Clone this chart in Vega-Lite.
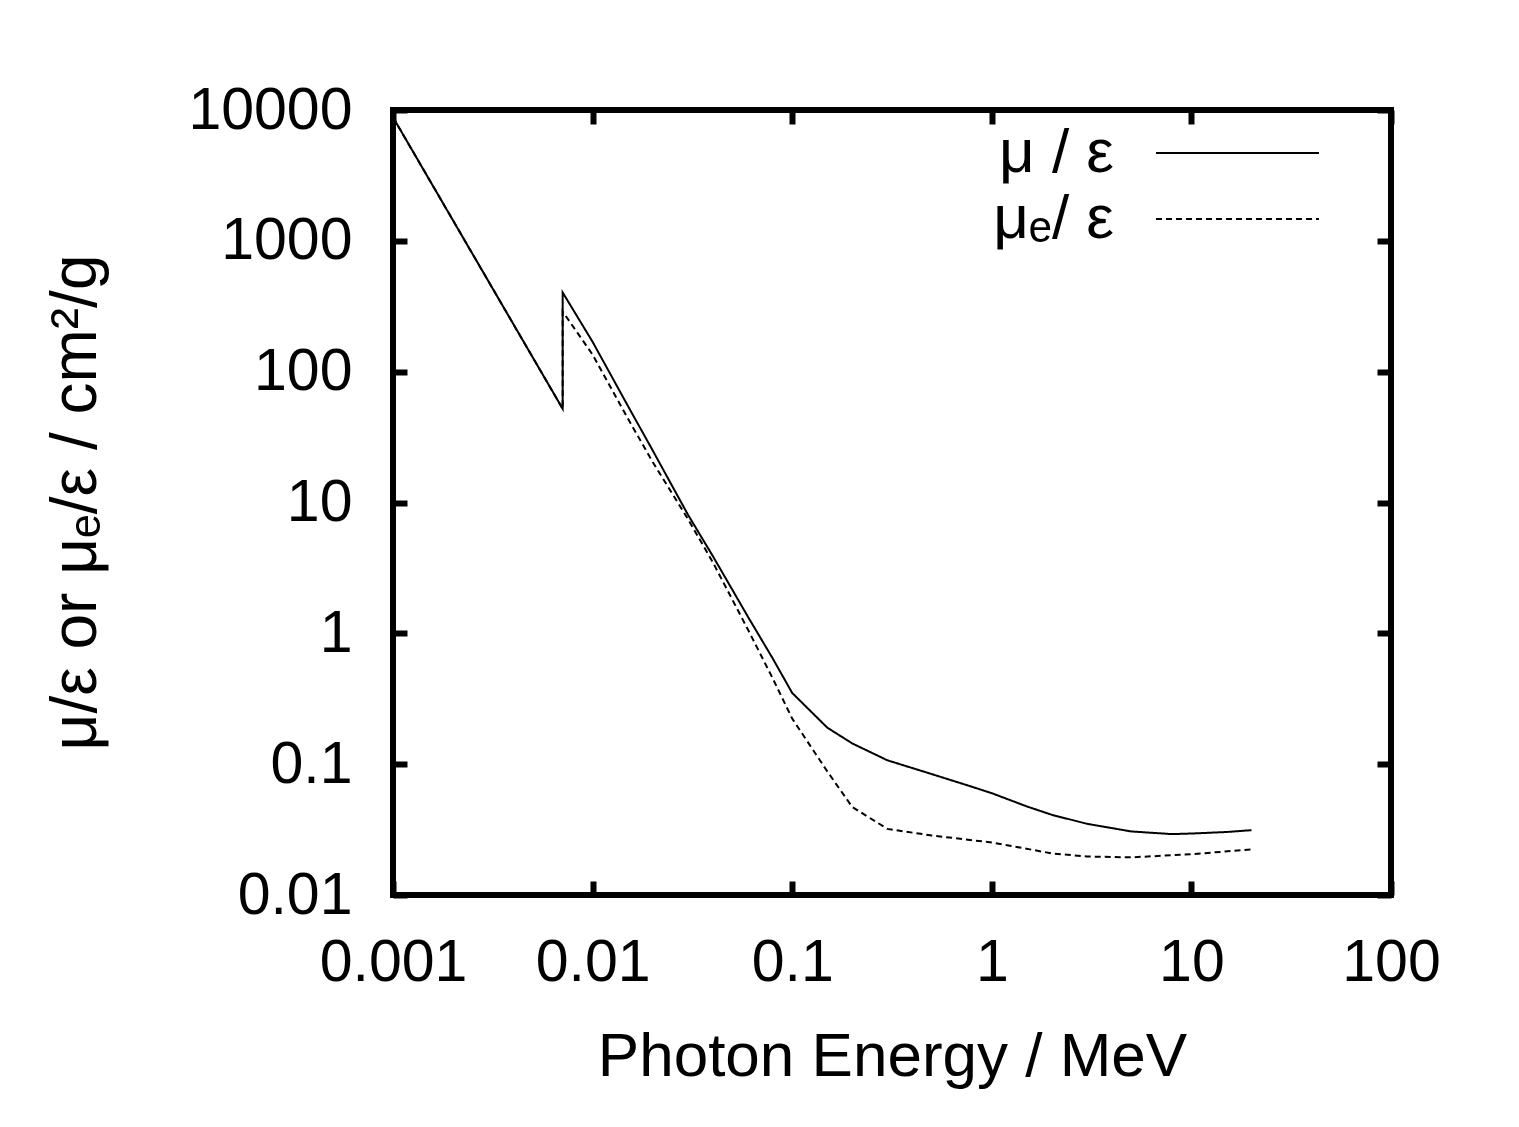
{
  "$schema": "https://vega.github.io/schema/vega-lite/v6.json",
  "width": 998,
  "height": 785,
  "autosize": {"type": "none"},
  "padding": {"left": 393, "top": 110, "right": 128, "bottom": 232},
  "background": "white",
  "config": {
    "font": "Liberation Sans",
    "view": {"stroke": "black", "strokeWidth": 6},
    "axis": {
      "grid": false,
      "domain": false,
      "tickSize": -14,
      "tickWidth": 6,
      "tickColor": "black",
      "labelFontSize": 59,
      "labelColor": "black",
      "labelFont": "Liberation Sans",
      "titleFont": "Liberation Sans",
      "titleFontSize": 62,
      "titleFontWeight": "normal",
      "titleColor": "black"
    },
    "legend": {
      "orient": "none",
      "legendX": 762,
      "legendY": 14,
      "padding": 0,
      "symbolType": "stroke",
      "symbolSize": 26569,
      "symbolStrokeWidth": 2,
      "symbolStrokeColor": "black",
      "symbolOpacity": 1,
      "labelFontSize": 62,
      "labelFont": "Liberation Sans",
      "labelColor": "black",
      "labelAlign": "right",
      "labelOffset": -206,
      "clipHeight": 58,
      "rowPadding": 4,
      "title": null
    }
  },
  "data": {
    "values": [
      {"E": 0.001, "v": 8800, "series": "μ / ε", "i": 1},
      {"E": 0.00708, "v": 52, "series": "μ / ε", "i": 2},
      {"E": 0.00708, "v": 403, "series": "μ / ε", "i": 3},
      {"E": 0.01, "v": 169, "series": "μ / ε", "i": 4},
      {"E": 0.015, "v": 55, "series": "μ / ε", "i": 5},
      {"E": 0.02, "v": 25, "series": "μ / ε", "i": 6},
      {"E": 0.03, "v": 8.1, "series": "μ / ε", "i": 7},
      {"E": 0.04, "v": 3.9, "series": "μ / ε", "i": 8},
      {"E": 0.06, "v": 1.34, "series": "μ / ε", "i": 9},
      {"E": 0.08, "v": 0.64, "series": "μ / ε", "i": 10},
      {"E": 0.1, "v": 0.35, "series": "μ / ε", "i": 11},
      {"E": 0.15, "v": 0.19, "series": "μ / ε", "i": 12},
      {"E": 0.2, "v": 0.144, "series": "μ / ε", "i": 13},
      {"E": 0.3, "v": 0.107, "series": "μ / ε", "i": 14},
      {"E": 0.5, "v": 0.084, "series": "μ / ε", "i": 15},
      {"E": 0.8, "v": 0.067, "series": "μ / ε", "i": 16},
      {"E": 1, "v": 0.06, "series": "μ / ε", "i": 17},
      {"E": 1.5, "v": 0.0475, "series": "μ / ε", "i": 18},
      {"E": 2, "v": 0.041, "series": "μ / ε", "i": 19},
      {"E": 3, "v": 0.035, "series": "μ / ε", "i": 20},
      {"E": 5, "v": 0.0306, "series": "μ / ε", "i": 21},
      {"E": 8, "v": 0.0292, "series": "μ / ε", "i": 22},
      {"E": 10, "v": 0.0295, "series": "μ / ε", "i": 23},
      {"E": 15, "v": 0.0303, "series": "μ / ε", "i": 24},
      {"E": 20, "v": 0.0313, "series": "μ / ε", "i": 25},
      {"E": 0.001, "v": 8800, "series": "μₑ/ ε", "i": 1},
      {"E": 0.00708, "v": 52, "series": "μₑ/ ε", "i": 2},
      {"E": 0.00708, "v": 288, "series": "μₑ/ ε", "i": 3},
      {"E": 0.01, "v": 135, "series": "μₑ/ ε", "i": 4},
      {"E": 0.015, "v": 44, "series": "μₑ/ ε", "i": 5},
      {"E": 0.02, "v": 20.4, "series": "μₑ/ ε", "i": 6},
      {"E": 0.03, "v": 7.5, "series": "μₑ/ ε", "i": 7},
      {"E": 0.04, "v": 3.5, "series": "μₑ/ ε", "i": 8},
      {"E": 0.06, "v": 1.07, "series": "μₑ/ ε", "i": 9},
      {"E": 0.08, "v": 0.45, "series": "μₑ/ ε", "i": 10},
      {"E": 0.1, "v": 0.223, "series": "μₑ/ ε", "i": 11},
      {"E": 0.15, "v": 0.088, "series": "μₑ/ ε", "i": 12},
      {"E": 0.2, "v": 0.047, "series": "μₑ/ ε", "i": 13},
      {"E": 0.3, "v": 0.032, "series": "μₑ/ ε", "i": 14},
      {"E": 0.5, "v": 0.0285, "series": "μₑ/ ε", "i": 15},
      {"E": 1, "v": 0.0252, "series": "μₑ/ ε", "i": 16},
      {"E": 2, "v": 0.0208, "series": "μₑ/ ε", "i": 17},
      {"E": 3, "v": 0.0197, "series": "μₑ/ ε", "i": 18},
      {"E": 5, "v": 0.0194, "series": "μₑ/ ε", "i": 19},
      {"E": 10, "v": 0.0205, "series": "μₑ/ ε", "i": 20},
      {"E": 20, "v": 0.0223, "series": "μₑ/ ε", "i": 21}
    ]
  },
  "layer": [
    {
      "mark": {"type": "line", "strokeWidth": 2, "color": "black", "clip": true},
      "encoding": {
        "x": {
          "field": "E", "type": "quantitative",
          "scale": {"type": "log", "domain": [0.001, 100], "nice": false},
          "axis": {
            "orient": "bottom",
            "values": [0.001, 0.01, 0.1, 1, 10, 100],
            "format": "~g",
            "labelPadding": 52,
            "labelFlush": false,
            "labelOverlap": false,
            "title": "Photon Energy / MeV",
            "titleBaseline": "alphabetic",
            "titleY": 180
          }
        },
        "y": {
          "field": "v", "type": "quantitative",
          "scale": {"type": "log", "domain": [0.01, 10000], "nice": false},
          "axis": {
            "orient": "left",
            "values": [0.01, 0.1, 1, 10, 100, 1000, 10000],
            "format": "~g",
            "labelPadding": 55,
            "labelFlush": false,
            "labelOverlap": false,
            "title": "μ/ε or μₑ/ε / cm²/g",
            "titleFontSize": 64,
            "titleAngle": -90,
            "titleBaseline": "alphabetic",
            "titleAlign": "center",
            "titleX": -298,
            "titleY": 392
          }
        },
        "strokeDash": {
          "field": "series", "type": "nominal",
          "scale": {"domain": ["μ / ε", "μₑ/ ε"], "range": [[1, 0], [6, 4]]},
          "legend": {
            "symbolStrokeColor": "black",
            "symbolStrokeWidth": 2,
            "encode": {"entries": {"update": {"width": {"value": 172}}}}
          }
        },
        "order": {"field": "i", "type": "quantitative"}
      }
    },
    {
      "mark": {"type": "line", "strokeOpacity": 0, "strokeWidth": 0.1},
      "encoding": {
        "x": {
          "field": "E", "type": "quantitative",
          "axis": {"orient": "top", "values": [0.001, 0.01, 0.1, 1, 10, 100], "labels": false, "title": null}
        },
        "y": {
          "field": "v", "type": "quantitative",
          "axis": {"orient": "right", "values": [0.01, 0.1, 1, 10, 100, 1000, 10000], "labels": false, "title": null}
        },
        "detail": {"field": "series", "type": "nominal"},
        "order": {"field": "i", "type": "quantitative"}
      }
    }
  ],
  "resolve": {"axis": {"x": "independent", "y": "independent"}}
}
